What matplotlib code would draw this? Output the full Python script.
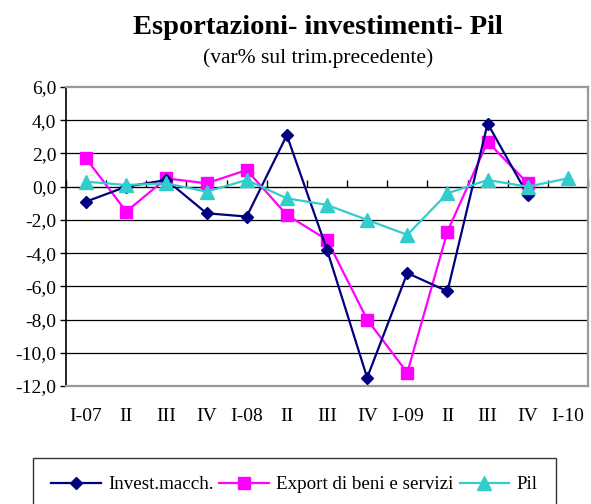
import matplotlib
matplotlib.use("Agg")
import matplotlib.pyplot as plt

# quarterly % change vs previous quarter
quarters = ["I-07", "II", "III", "IV", "I-08", "II", "III", "IV",
            "I-09", "II", "III", "IV", "I-10"]
invest = [-0.9, 0.0, 0.4, -1.6, -1.8, 3.1, -3.8, -11.5, -5.2, -6.3, 3.8, -0.5]
export = [1.7, -1.5, 0.5, 0.2, 1.0, -1.7, -3.2, -8.0, -11.2, -2.7, 2.7, 0.2]
pil = [0.3, 0.1, 0.2, -0.3, 0.4, -0.7, -1.1, -2.0, -2.9, -0.4, 0.4, 0.0, 0.5]
yticks = [-12, -10, -8, -6, -4, -2, 0, 2, 4, 6]

plt.rcParams['font.family'] = ['Liberation Serif', 'DejaVu Serif']

fig = plt.figure(figsize=(5.91, 5.04), dpi=100)
ax = fig.add_axes([66 / 591, 1 - 386 / 504, 522 / 591, 299 / 504])

x = list(range(len(quarters)))
ax.plot(x[:len(invest)], invest, color='#000080', lw=1.6, marker='D', ms=6.5,
        label='Invest.macch.', zorder=4)
ax.plot(x[:len(export)], export, color='#FF00FF', lw=1.6, marker='s', ms=8,
        label='Export di beni e servizi', zorder=3)
ax.plot(x, pil, color='#33CCCC', lw=1.6, marker='^', ms=9.5,
        label='Pil', zorder=5)

ax.set_xlim(-0.5, len(quarters) - 0.5)
ax.set_ylim(-12, 6)
ax.set_yticks(yticks)
ax.set_yticklabels([f"{v:.1f}".replace('.', ',') for v in yticks], fontsize=14)
for v in yticks[1:-1]:
    ax.axhline(v, color='black', lw=0.9, zorder=1)

ax.set_xticks(x)
ax.set_xticklabels(quarters, fontsize=14)
ax.tick_params(axis='x', length=0, pad=16)
ax.tick_params(axis='y', length=4, width=1, color='black', pad=3)

for s in ['top', 'right', 'bottom']:
    ax.spines[s].set_color('#999999')
    ax.spines[s].set_linewidth(1.6)
ax.spines['left'].set_color('black')
ax.spines['left'].set_linewidth(1.2)

# category axis crossing at zero, with tick marks between categories
sec = ax.secondary_xaxis(12 / 18)
sec.set_xticks([i - 0.5 for i in range(len(quarters) + 1)])
sec.set_xticklabels([])
sec.tick_params(length=5, width=1, direction='out', color='black')
sec.spines['bottom'].set_color('black')
sec.spines['bottom'].set_linewidth(1)

fig.text(0.538, 1 - 28 / 504, "Esportazioni- investimenti- Pil", ha='center',
         va='center', fontsize=20.5, fontweight='bold')
fig.text(0.538, 1 - 58 / 504, "(var% sul trim.precedente)", ha='center',
         va='center', fontsize=15.5)

leg = fig.legend(loc='upper left', bbox_to_anchor=(33 / 591, 1 - 458 / 504),
                 ncol=3, fontsize=13.7, frameon=True, fancybox=False,
                 edgecolor='black', handlelength=2.6, handletextpad=0.4,
                 columnspacing=0.3, borderpad=0.95, borderaxespad=0)
leg.get_frame().set_linewidth(1.0)

fig.savefig("out.png", dpi=100)
